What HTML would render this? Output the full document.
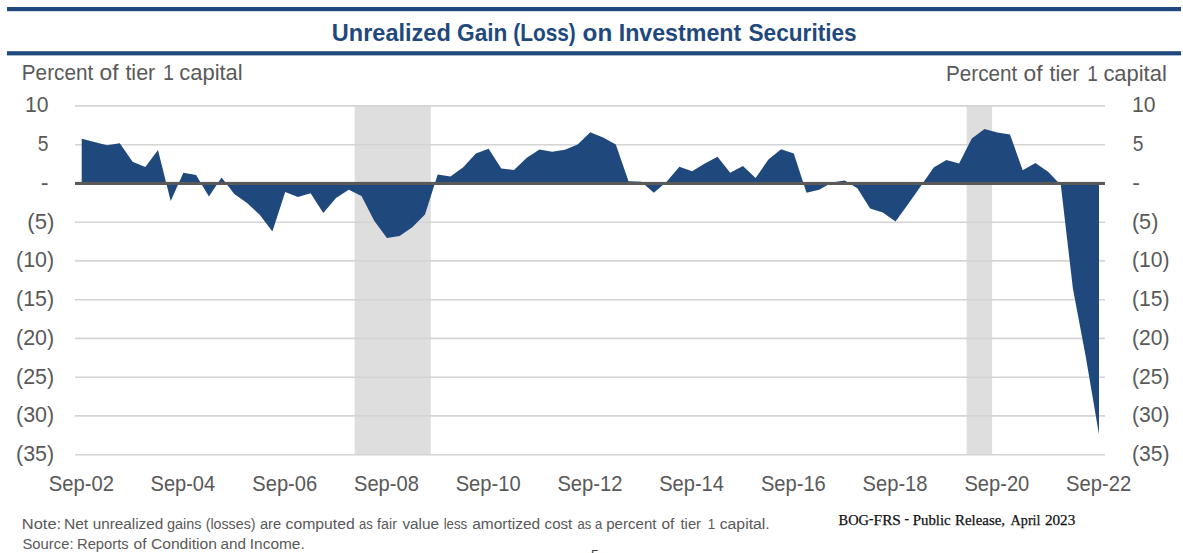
<!DOCTYPE html>
<html lang="en"><head><meta charset="utf-8"><title>Unrealized Gain (Loss) on Investment Securities</title>
<style>
html,body{margin:0;padding:0;background:#fff;overflow:hidden}
svg{display:block;font-family:"Liberation Sans",Arial,sans-serif}
.grid line{stroke:#d4d4d4;stroke-width:1.6}
</style></head><body>
<svg width="1183" height="553" viewBox="0 0 1183 553">
<rect width="1183" height="553" fill="#fff"/>
<rect x="7" y="7" width="1174" height="4.2" fill="#1f497d"/>
<rect x="7" y="51.2" width="1174" height="4.2" fill="#1f497d"/>
<rect x="354.7" y="105.9" width="76.1" height="348.8" fill="#dedede"/>
<rect x="966.6" y="105.9" width="25.5" height="348.8" fill="#dedede"/>
<g class="grid"><line x1="75" x2="1105" y1="105.9" y2="105.9"/><line x1="75" x2="1105" y1="144.7" y2="144.7"/><line x1="75" x2="1105" y1="222.2" y2="222.2"/><line x1="75" x2="1105" y1="260.9" y2="260.9"/><line x1="75" x2="1105" y1="299.7" y2="299.7"/><line x1="75" x2="1105" y1="338.4" y2="338.4"/><line x1="75" x2="1105" y1="377.2" y2="377.2"/><line x1="75" x2="1105" y1="415.9" y2="415.9"/><line x1="75" x2="1105" y1="454.7" y2="454.7"/></g>
<path d="M81.7 183.4 L81.7 138.7 L94.4 142.0 L107.1 145.3 L119.8 143.3 L132.6 161.8 L145.3 167.0 L158.0 149.9 L170.7 201.1 L183.4 172.7 L196.1 175.0 L208.9 196.6 L221.6 177.5 L234.3 194.0 L247.0 202.9 L259.7 214.8 L272.4 231.5 L285.2 192.1 L297.9 196.9 L310.6 193.3 L323.3 213.0 L336.0 198.1 L348.7 189.8 L361.5 195.9 L374.2 220.7 L386.9 238.0 L399.6 235.9 L412.3 227.3 L425.0 214.6 L437.7 174.6 L450.5 176.6 L463.2 167.2 L475.9 153.5 L488.6 148.7 L501.3 168.5 L514.0 170.0 L526.8 157.8 L539.5 149.5 L552.2 151.7 L564.9 149.7 L577.6 144.6 L590.3 132.2 L603.1 137.5 L615.8 144.4 L628.5 181.2 L641.2 181.7 L653.9 192.8 L666.6 181.7 L679.4 166.7 L692.1 171.3 L704.8 163.4 L717.5 156.8 L730.2 172.8 L742.9 165.9 L755.6 178.1 L768.4 159.6 L781.1 149.2 L793.8 153.5 L806.5 192.8 L819.2 189.8 L831.9 182.4 L844.7 180.6 L857.4 188.3 L870.1 208.5 L882.8 212.6 L895.5 221.5 L908.2 204.0 L921.0 185.7 L933.7 167.5 L946.4 160.1 L959.1 163.4 L971.8 138.5 L984.5 128.9 L997.3 132.5 L1010.0 134.5 L1022.7 170.3 L1035.4 162.9 L1048.1 171.8 L1060.8 185.0 L1072.9 288.5 L1085.7 356.4 L1099.0 434.6 L1099.0 183.4 Z" fill="#1f497d"/>
<rect x="75" y="181.9" width="1030" height="3.1" fill="#595959"/>
<g>
<text x="331.8" y="40.5" font-size="23.7" font-weight="bold" fill="#1f497d" textLength="119.0" lengthAdjust="spacingAndGlyphs">Unrealized</text>
<text x="457.0" y="40.5" font-size="23.7" font-weight="bold" fill="#1f497d" textLength="50.4" lengthAdjust="spacingAndGlyphs">Gain</text>
<text x="513.2" y="40.5" font-size="23.7" font-weight="bold" fill="#1f497d" textLength="62.6" lengthAdjust="spacingAndGlyphs">(Loss)</text>
<text x="582.6" y="40.5" font-size="23.7" font-weight="bold" fill="#1f497d" textLength="29.7" lengthAdjust="spacingAndGlyphs">on</text>
<text x="618.7" y="40.5" font-size="23.7" font-weight="bold" fill="#1f497d" textLength="122.5" lengthAdjust="spacingAndGlyphs">Investment</text>
<text x="748.5" y="40.5" font-size="23.7" font-weight="bold" fill="#1f497d" textLength="108.2" lengthAdjust="spacingAndGlyphs">Securities</text>
<text x="21.8" y="79.6" font-size="21.6" fill="#595959" textLength="71.4" lengthAdjust="spacingAndGlyphs">Percent</text>
<text x="99.5" y="79.6" font-size="21.6" fill="#595959" textLength="19.0" lengthAdjust="spacingAndGlyphs">of</text>
<text x="125.4" y="79.6" font-size="21.6" fill="#595959" textLength="29.9" lengthAdjust="spacingAndGlyphs">tier</text>
<text x="163.2" y="79.6" font-size="21.6" fill="#595959" textLength="10.6" lengthAdjust="spacingAndGlyphs">1</text>
<text x="179.3" y="79.6" font-size="21.6" fill="#595959" textLength="63.4" lengthAdjust="spacingAndGlyphs">capital</text>
<text x="945.9" y="81.0" font-size="21.6" fill="#595959" textLength="71.4" lengthAdjust="spacingAndGlyphs">Percent</text>
<text x="1023.6" y="81.0" font-size="21.6" fill="#595959" textLength="19.0" lengthAdjust="spacingAndGlyphs">of</text>
<text x="1049.5" y="81.0" font-size="21.6" fill="#595959" textLength="29.9" lengthAdjust="spacingAndGlyphs">tier</text>
<text x="1087.3" y="81.0" font-size="21.6" fill="#595959" textLength="10.6" lengthAdjust="spacingAndGlyphs">1</text>
<text x="1103.4" y="81.0" font-size="21.6" fill="#595959" textLength="63.4" lengthAdjust="spacingAndGlyphs">capital</text>
<text x="25.0" y="112.3" font-size="21.2" fill="#595959" textLength="23.5" lengthAdjust="spacingAndGlyphs">10</text>
<text x="1131.9" y="112.3" font-size="21.2" fill="#595959" textLength="23.5" lengthAdjust="spacingAndGlyphs">10</text>
<text x="37.7" y="151.1" font-size="21.2" fill="#595959" textLength="10.7" lengthAdjust="spacingAndGlyphs">5</text>
<text x="1132.7" y="151.1" font-size="21.2" fill="#595959" textLength="10.7" lengthAdjust="spacingAndGlyphs">5</text>
<text x="40.8" y="189.8" font-size="21.2" fill="#595959" textLength="7.8" lengthAdjust="spacingAndGlyphs">-</text>
<text x="1132.3" y="189.8" font-size="21.2" fill="#595959" textLength="7.8" lengthAdjust="spacingAndGlyphs">-</text>
<text x="27.3" y="228.6" font-size="21.2" fill="#595959" textLength="27.1" lengthAdjust="spacingAndGlyphs">(5)</text>
<text x="1131.9" y="228.6" font-size="21.2" fill="#595959" textLength="26.5" lengthAdjust="spacingAndGlyphs">(5)</text>
<text x="16.0" y="267.3" font-size="21.2" fill="#595959" textLength="38.1" lengthAdjust="spacingAndGlyphs">(10)</text>
<text x="1132.0" y="267.3" font-size="21.2" fill="#595959" textLength="37.5" lengthAdjust="spacingAndGlyphs">(10)</text>
<text x="16.0" y="306.1" font-size="21.2" fill="#595959" textLength="38.1" lengthAdjust="spacingAndGlyphs">(15)</text>
<text x="1132.0" y="306.1" font-size="21.2" fill="#595959" textLength="37.5" lengthAdjust="spacingAndGlyphs">(15)</text>
<text x="16.0" y="344.8" font-size="21.2" fill="#595959" textLength="38.1" lengthAdjust="spacingAndGlyphs">(20)</text>
<text x="1132.0" y="344.8" font-size="21.2" fill="#595959" textLength="37.5" lengthAdjust="spacingAndGlyphs">(20)</text>
<text x="16.0" y="383.6" font-size="21.2" fill="#595959" textLength="38.1" lengthAdjust="spacingAndGlyphs">(25)</text>
<text x="1132.0" y="383.6" font-size="21.2" fill="#595959" textLength="37.5" lengthAdjust="spacingAndGlyphs">(25)</text>
<text x="16.0" y="422.3" font-size="21.2" fill="#595959" textLength="38.1" lengthAdjust="spacingAndGlyphs">(30)</text>
<text x="1132.0" y="422.3" font-size="21.2" fill="#595959" textLength="37.5" lengthAdjust="spacingAndGlyphs">(30)</text>
<text x="16.0" y="461.1" font-size="21.2" fill="#595959" textLength="38.1" lengthAdjust="spacingAndGlyphs">(35)</text>
<text x="1132.0" y="461.1" font-size="21.2" fill="#595959" textLength="37.5" lengthAdjust="spacingAndGlyphs">(35)</text>
<text x="48.8" y="491.2" font-size="21.3" fill="#595959" textLength="65.2" lengthAdjust="spacingAndGlyphs">Sep-02</text>
<text x="150.5" y="491.2" font-size="21.3" fill="#595959" textLength="64.7" lengthAdjust="spacingAndGlyphs">Sep-04</text>
<text x="252.3" y="491.2" font-size="21.3" fill="#595959" textLength="64.9" lengthAdjust="spacingAndGlyphs">Sep-06</text>
<text x="354.0" y="491.2" font-size="21.3" fill="#595959" textLength="64.9" lengthAdjust="spacingAndGlyphs">Sep-08</text>
<text x="455.7" y="491.2" font-size="21.3" fill="#595959" textLength="64.9" lengthAdjust="spacingAndGlyphs">Sep-10</text>
<text x="557.4" y="491.2" font-size="21.3" fill="#595959" textLength="65.2" lengthAdjust="spacingAndGlyphs">Sep-12</text>
<text x="659.2" y="491.2" font-size="21.3" fill="#595959" textLength="64.7" lengthAdjust="spacingAndGlyphs">Sep-14</text>
<text x="760.9" y="491.2" font-size="21.3" fill="#595959" textLength="64.9" lengthAdjust="spacingAndGlyphs">Sep-16</text>
<text x="862.6" y="491.2" font-size="21.3" fill="#595959" textLength="64.9" lengthAdjust="spacingAndGlyphs">Sep-18</text>
<text x="964.4" y="491.2" font-size="21.3" fill="#595959" textLength="64.9" lengthAdjust="spacingAndGlyphs">Sep-20</text>
<text x="1066.1" y="491.2" font-size="21.3" fill="#595959" textLength="65.2" lengthAdjust="spacingAndGlyphs">Sep-22</text>
<text x="21.8" y="528.5" font-size="14.9" fill="#595959" textLength="39.4" lengthAdjust="spacingAndGlyphs">Note:</text>
<text x="63.9" y="528.5" font-size="14.9" fill="#595959" textLength="24.3" lengthAdjust="spacingAndGlyphs">Net</text>
<text x="92.7" y="528.5" font-size="14.9" fill="#595959" textLength="70.5" lengthAdjust="spacingAndGlyphs">unrealized</text>
<text x="167.0" y="528.5" font-size="14.9" fill="#595959" textLength="34.6" lengthAdjust="spacingAndGlyphs">gains</text>
<text x="205.7" y="528.5" font-size="14.9" fill="#595959" textLength="49.8" lengthAdjust="spacingAndGlyphs">(losses)</text>
<text x="259.9" y="528.5" font-size="14.9" fill="#595959" textLength="21.2" lengthAdjust="spacingAndGlyphs">are</text>
<text x="285.5" y="528.5" font-size="14.9" fill="#595959" textLength="69.3" lengthAdjust="spacingAndGlyphs">computed</text>
<text x="359.0" y="528.5" font-size="14.9" fill="#595959" textLength="13.8" lengthAdjust="spacingAndGlyphs">as</text>
<text x="377.1" y="528.5" font-size="14.9" fill="#595959" textLength="19.8" lengthAdjust="spacingAndGlyphs">fair</text>
<text x="402.4" y="528.5" font-size="14.9" fill="#595959" textLength="36.7" lengthAdjust="spacingAndGlyphs">value</text>
<text x="443.7" y="528.5" font-size="14.9" fill="#595959" textLength="23.5" lengthAdjust="spacingAndGlyphs">less</text>
<text x="472.2" y="528.5" font-size="14.9" fill="#595959" textLength="68.0" lengthAdjust="spacingAndGlyphs">amortized</text>
<text x="544.6" y="528.5" font-size="14.9" fill="#595959" textLength="27.7" lengthAdjust="spacingAndGlyphs">cost</text>
<text x="577.4" y="528.5" font-size="14.9" fill="#595959" textLength="13.8" lengthAdjust="spacingAndGlyphs">as</text>
<text x="595.0" y="528.5" font-size="14.9" fill="#595959" textLength="7.3" lengthAdjust="spacingAndGlyphs">a</text>
<text x="606.2" y="528.5" font-size="14.9" fill="#595959" textLength="50.3" lengthAdjust="spacingAndGlyphs">percent</text>
<text x="661.5" y="528.5" font-size="14.9" fill="#595959" textLength="12.9" lengthAdjust="spacingAndGlyphs">of</text>
<text x="680.5" y="528.5" font-size="14.9" fill="#595959" textLength="20.5" lengthAdjust="spacingAndGlyphs">tier</text>
<text x="707.8" y="528.5" font-size="14.9" fill="#595959" textLength="7.4" lengthAdjust="spacingAndGlyphs">1</text>
<text x="719.7" y="528.5" font-size="14.9" fill="#595959" textLength="50.0" lengthAdjust="spacingAndGlyphs">capital.</text>
<text x="22.5" y="548.9" font-size="14.9" fill="#595959" textLength="51.0" lengthAdjust="spacingAndGlyphs">Source:</text>
<text x="77.0" y="548.9" font-size="14.9" fill="#595959" textLength="51.7" lengthAdjust="spacingAndGlyphs">Reports</text>
<text x="133.6" y="548.9" font-size="14.9" fill="#595959" textLength="13.0" lengthAdjust="spacingAndGlyphs">of</text>
<text x="150.9" y="548.9" font-size="14.9" fill="#595959" textLength="66.1" lengthAdjust="spacingAndGlyphs">Condition</text>
<text x="220.6" y="548.9" font-size="14.9" fill="#595959" textLength="25.4" lengthAdjust="spacingAndGlyphs">and</text>
<text x="249.8" y="548.9" font-size="14.9" fill="#595959" textLength="54.9" lengthAdjust="spacingAndGlyphs">Income.</text>
<text x="838.6" y="524.9" font-size="15.3" font-family='"Liberation Serif","Times New Roman",serif' stroke="#111" stroke-width="0.25" fill="#111111" textLength="30.4" lengthAdjust="spacingAndGlyphs">BOG</text>
<text x="868.9" y="523.1" font-size="15.3" font-family='"Liberation Serif","Times New Roman",serif' stroke="#111" stroke-width="0.25" fill="#111111" textLength="4.5" lengthAdjust="spacingAndGlyphs">-</text>
<text x="873.6" y="524.9" font-size="15.3" font-family='"Liberation Serif","Times New Roman",serif' stroke="#111" stroke-width="0.25" fill="#111111" textLength="27.3" lengthAdjust="spacingAndGlyphs">FRS</text>
<text x="904.5" y="523.1" font-size="15.3" font-family='"Liberation Serif","Times New Roman",serif' stroke="#111" stroke-width="0.25" fill="#111111" textLength="4.5" lengthAdjust="spacingAndGlyphs">-</text>
<text x="912.8" y="524.9" font-size="15.3" font-family='"Liberation Serif","Times New Roman",serif' stroke="#111" stroke-width="0.25" fill="#111111" textLength="37.9" lengthAdjust="spacingAndGlyphs">Public</text>
<text x="955.0" y="524.9" font-size="15.3" font-family='"Liberation Serif","Times New Roman",serif' stroke="#111" stroke-width="0.25" fill="#111111" textLength="50.1" lengthAdjust="spacingAndGlyphs">Release,</text>
<text x="1010.6" y="524.9" font-size="15.3" font-family='"Liberation Serif","Times New Roman",serif' stroke="#111" stroke-width="0.25" fill="#111111" textLength="29.9" lengthAdjust="spacingAndGlyphs">April</text>
<text x="1044.9" y="524.9" font-size="15.3" font-family='"Liberation Serif","Times New Roman",serif' stroke="#111" stroke-width="0.25" fill="#111111" textLength="30.4" lengthAdjust="spacingAndGlyphs">2023</text>
<text x="590.9" y="559.9" font-size="14.5" fill="#404040" textLength="7.8" lengthAdjust="spacingAndGlyphs">5</text>
</g>
</svg>
</body></html>
